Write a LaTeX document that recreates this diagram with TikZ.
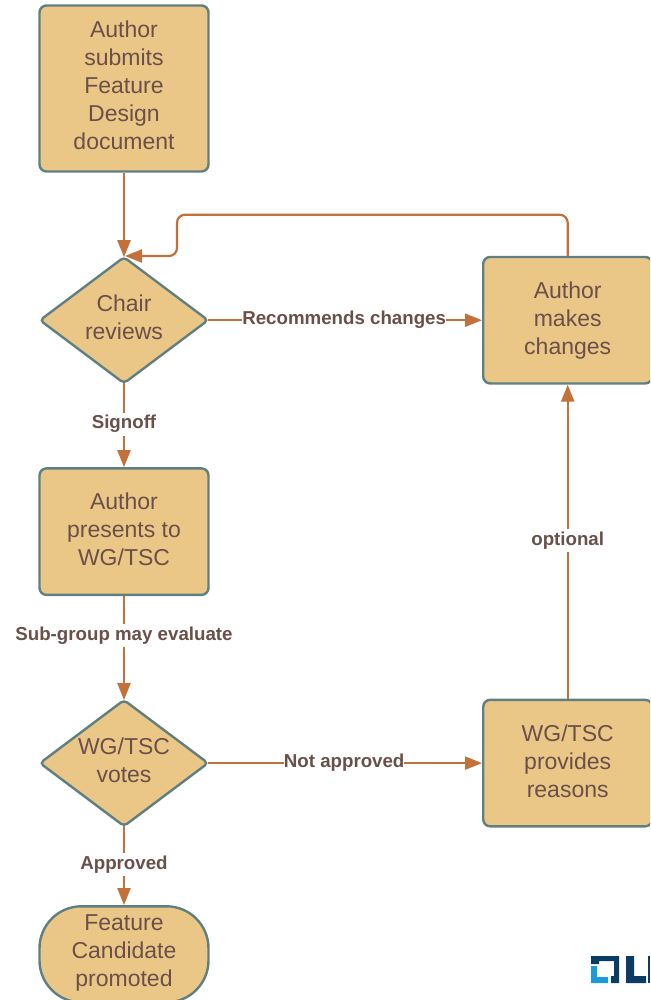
\documentclass[tikz,border=0pt]{standalone}
\usepackage{fontspec}
\setmainfont{Liberation Sans}
\usetikzlibrary{positioning, arrows.meta, shapes.geometric}
\definecolor{boxfill}{HTML}{EBC787}
\definecolor{boxline}{HTML}{5F7F80}
\definecolor{flowline}{HTML}{C4703A}
\definecolor{inktext}{HTML}{6B4F49}
\definecolor{logonavy}{HTML}{0B3C64}
\definecolor{logoblue}{HTML}{1B9BD8}
\tikzset{>={Triangle[length=17pt,width=13pt]}}
\tikzset{
	shapetext/.style={draw=boxline, line width=2.4pt, fill=boxfill, text=inktext, align=center, inner sep=0pt, font=\fontsize{23}{28}\selectfont},
	stepbox/.style={shapetext, rectangle, rounded corners=7pt, minimum width=169pt},
	choice/.style={shapetext, diamond, aspect=1.34, outer sep=0pt, rounded corners=4pt, minimum width=168pt, minimum height=126pt},
	finish/.style={shapetext, rectangle, rounded corners=42pt, minimum width=169pt, minimum height=96pt},
	flow/.style={draw=flowline, line width=2.2pt, ->},
	flowlabel/.style={fill=white, text=inktext, inner xsep=0pt, inner ysep=2pt, text height=14pt, text depth=5pt, font=\fontsize{18.7}{20}\selectfont\bfseries}
}
\begin{document}
\begin{tikzpicture}[x=1pt, y=1pt]
	\useasboundingbox (0,0) rectangle (650,-1000);
	\clip (0,0) rectangle (650,-1000);

	\node[stepbox, minimum height=166pt] (submit) at (124,-88.5) {Author\\submits\\Feature\\Design\\document\\[-22pt]};
	\node[choice, below=84.5pt of submit] (chair) {Chair\\reviews\\[-21pt]};
	\node[stepbox, minimum height=126.5pt, below=84pt of chair] (present) {Author\\presents to\\WG/TSC\\[-24pt]};
	\node[choice, below=104pt of present] (vote) {WG/TSC\\votes\\[-23pt]};
	\node[finish, below=79pt of vote] (promoted) {Feature\\Candidate\\promoted\\[-21pt]};
	\node[stepbox, minimum height=126.5pt, right=274pt of chair] (changes) {Author\\makes\\changes\\[-24.4pt]};
	\node[stepbox, minimum height=126.5pt, right=274pt of vote] (reasons) {WG/TSC\\provides\\reasons\\[-25pt]};

	\coordinate (looptop) at ([yshift=41pt]changes.north);
	\coordinate (loopin) at (177,-256);
	\coordinate (looptip) at (125,-256);

	\draw[flow] (submit) -- (chair);
	\draw[flow] (chair) -- node[flowlabel, pos=.49] {Signoff} (present);
	\draw[flow] (present) -- node[flowlabel, pos=.38] {Sub-group may evaluate} (vote);
	\draw[flow] (vote) -- node[flowlabel, pos=.49] {Approved} (promoted);
	\draw[flow] (chair) -- node[flowlabel, pos=.497] {Recommends changes} (changes);
	\draw[flow] (vote) -- node[flowlabel, pos=.497] {Not approved} (reasons);
	\draw[flow] (reasons) -- node[flowlabel, pos=.503] {optional} (changes);
	\draw[flow, rounded corners=8pt] (changes.north) -- (looptop) -- (looptop -| loopin) -- (loopin) -- (looptip);

	\fill[logonavy] (591,-956) -- (619,-956) -- (619,-983) -- (611,-983) -- (611,-976) -- (614,-976) -- (614,-961) -- (599,-961) -- (599,-964) -- (591,-964) -- cycle;
	\fill[logoblue] (591,-966) -- (597,-966) -- (597,-977) -- (608,-977) -- (608,-983) -- (591,-983) -- cycle;
	\fill[logonavy] (626,-956) -- (634,-956) -- (634,-976) -- (646,-976) -- (646,-983) -- (626,-983) -- cycle;
	\fill[logonavy] (648,-956) rectangle (650,-983);
\end{tikzpicture}
\end{document}
